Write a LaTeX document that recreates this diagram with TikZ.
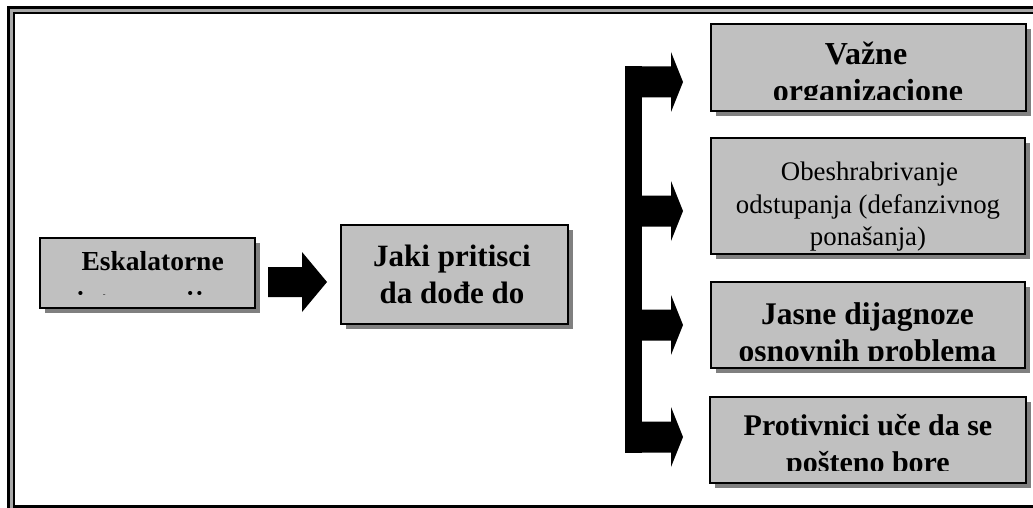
\documentclass[tikz,border=0pt]{standalone}
\usepackage{fontspec}
\setmainfont{Liberation Serif}
\usetikzlibrary{shadows}
\definecolor{panelgray}{HTML}{C0C0C0}
\definecolor{shadegray}{HTML}{808080}
\definecolor{rulegray}{HTML}{A8A8A8}

% block arrow leaving the vertical bar, centred at height #1
\newcommand\brancharrow[1]{%
  \fill (625,#1-15.5) -- (671,#1-15.5) -- (671,#1-30) -- (683,#1)
        -- (671,#1+30) -- (671,#1+15.5) -- (625,#1+15.5) -- cycle;}

\begin{document}
\begin{tikzpicture}[x=1pt,y=-1pt,
  panel/.style={draw=black, line width=1.4pt, fill=panelgray, inner sep=0pt,
    drop shadow={shadow xshift=5pt, shadow yshift=-5pt, fill=shadegray, opacity=1}},
  line/.style={anchor=base, inner sep=0pt},
  bold/.style={line, font=\bfseries\fontsize{#1}{#1}\selectfont},
  plain/.style={line, font=\fontsize{#1}{#1}\selectfont}]

\useasboundingbox (0,0) rectangle (1033,508);
\clip (0,0) rectangle (1033,508);

% triple frame round the page
\draw[rulegray, line width=3pt] (11.3,10.1) rectangle (1040,510);
\draw[line width=2.7pt] (8.7,7.3) rectangle (1044,514);
\draw[line width=2.5pt] (14,12.8) rectangle (1036,506.3);

% panels
\node[panel, minimum width=215pt, minimum height=70pt]  (esk)   at (147.5,273)  {};
\node[panel, minimum width=227pt, minimum height=99pt]  (jaki)  at (454.5,274.5) {};
\node[panel, minimum width=315pt, minimum height=87pt]  (vazne) at (868.5,67.5) {};
\node[panel, minimum width=314pt, minimum height=116pt] (obes)  at (868,196)    {};
\node[panel, minimum width=314pt, minimum height=86pt]  (jasne) at (868,325)    {};
\node[panel, minimum width=316pt, minimum height=86pt]  (prot)  at (868,440)    {};

% panel texts, cut off at the lower text margin
\begin{scope}
  \clip (41,239) rectangle (254,294.5);
  \node[bold=27.5] (esk1) at (152.7,270) {Eskalatorne};
  \node[bold=27.5] (esk2) at (146,310) {intervencije};
\end{scope}
\node[bold=31] (jaki1) at (452,266) {Jaki pritisci};
\node[bold=31] (jaki2) at (452,303) {da dođe do};
\begin{scope}
  \clip (712,25) rectangle (1025,100);
  \node[bold=32] (vazne1) at (866,65)  {Važne};
  \node[bold=32] (vazne2) at (868,102) {organizacione};
\end{scope}
\node[plain=26.8] (obes1) at (869.5,180) {Obeshrabrivanje};
\node[plain=26.8] (obes2) at (868,213)   {odstupanja (defanzivnog};
\node[plain=26.8] (obes3) at (868,245)   {ponašanja)};
\begin{scope}
  \clip (712,283) rectangle (1024,360.5);
  \node[bold=31.5] (jasne1) at (867.5,324) {Jasne dijagnoze};
  \node[bold=31.5] (jasne2) at (867.5,361) {osnovnih problema};
\end{scope}
\begin{scope}
  \clip (711,398) rectangle (1025,470.5);
  \node[bold=30] (prot1) at (868,435) {Protivnici uče da se};
  \node[bold=30] (prot2) at (868,472) {pošteno bore};
\end{scope}

% block arrow between the two left panels
\fill (268,267) -- (302,267) -- (302,252) -- (327,282) -- (302,312)
      -- (302,297) -- (268,297) -- cycle;

% branching bracket towards the four right panels
\fill (625,66.5) rectangle (642,452.5);
\brancharrow{82}
\brancharrow{211}
\brancharrow{325}
\brancharrow{437}
\end{tikzpicture}
\end{document}
